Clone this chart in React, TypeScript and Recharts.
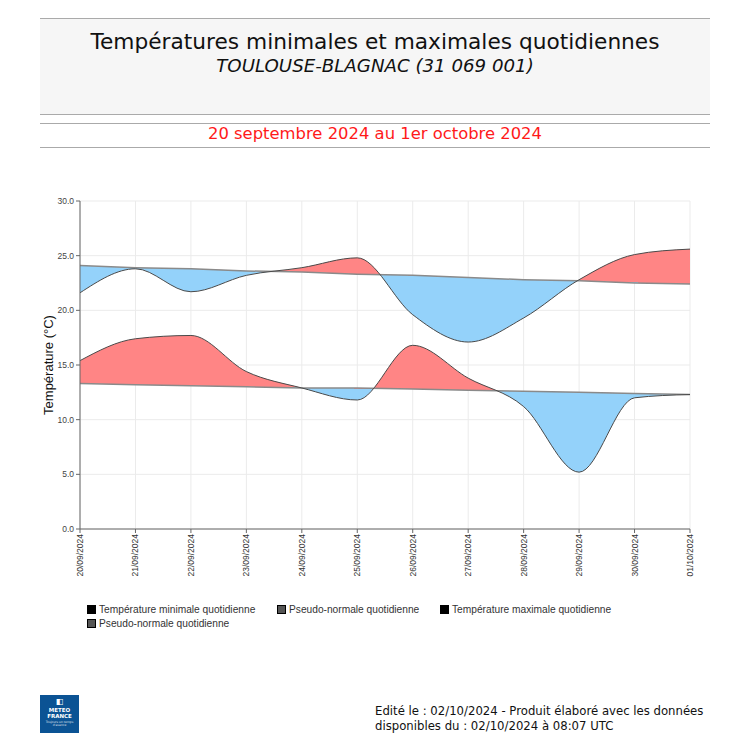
import React from 'react';
import { ComposedChart, Area, Line, XAxis, YAxis, CartesianGrid } from 'recharts';

const dates = ['20/09/2024', '21/09/2024', '22/09/2024', '23/09/2024', '24/09/2024', '25/09/2024', '26/09/2024', '27/09/2024', '28/09/2024', '29/09/2024', '30/09/2024', '01/10/2024'];
const tMax = [21.6, 23.8, 21.7, 23.2, 23.9, 24.8, 19.6, 17.1, 19.3, 22.8, 25.1, 25.6];
const normMax = [24.1, 23.9, 23.8, 23.6, 23.5, 23.3, 23.2, 23.0, 22.8, 22.7, 22.5, 22.4];
const tMin = [15.4, 17.4, 17.7, 14.4, 12.9, 11.8, 16.8, 13.8, 11.2, 5.2, 12.0, 12.3];
const normMin = [13.3, 13.2, 13.1, 13.0, 12.9, 12.9, 12.8, 12.7, 12.6, 12.5, 12.4, 12.3];
const yTicks = [0, 5, 10, 15, 20, 25, 30];

const legendItems = [
  { label: 'Température minimale quotidienne', color: '#000' },
  { label: 'Pseudo-normale quotidienne', color: '#555' },
  { label: 'Température maximale quotidienne', color: '#000' },
  { label: 'Pseudo-normale quotidienne', color: '#555' },
];

const RED = '#ff8585';
const BLUE = '#94d2fa';

const data = dates.map((d, i) => ({
  date: d,
  tmax: tMax[i],
  nmax: normMax[i],
  tmin: tMin[i],
  nmin: normMin[i],
  rmax: [normMax[i], tMax[i]],
  rmin: [normMin[i], tMin[i]],
}));

// layout of the chart
const W = 750;
const H = 600;
const M = { top: 201, right: 60, bottom: 11, left: 40 };
const Y_W = 40;
const X_H = 60;
const plotL = M.left + Y_W;
const plotR = W - M.right;
const plotT = M.top;
const plotB = H - M.bottom - X_H;
const yMax = 30;
const yPix = (v: number) => plotT + ((yMax - v) / yMax) * (plotB - plotT);

function splitGradient(id: string, normals: number[]) {
  const x0 = plotL, y0 = yPix(normals[0]);
  const x1 = plotR, y1 = yPix(normals[normals.length - 1]);
  const mx = (x0 + x1) / 2, my = (y0 + y1) / 2;
  const dx = x1 - x0, dy = y1 - y0;
  const len = Math.hypot(dx, dy);
  const nx = dy / len, ny = -dx / len; // points upward
  const L = 400;
  return (
    <linearGradient id={id} gradientUnits="userSpaceOnUse" x1={mx + nx * L} y1={my + ny * L} x2={mx - nx * L} y2={my - ny * L}>
      <stop offset="0" stopColor={RED} />
      <stop offset="0.5" stopColor={RED} />
      <stop offset="0.5" stopColor={BLUE} />
      <stop offset="1" stopColor={BLUE} />
    </linearGradient>
  );
}

const DateTick = (props: any) => {
  const { x, y, payload } = props;
  return (
    <text
      x={x}
      y={y}
      transform={`rotate(-90, ${x}, ${y})`}
      textAnchor="end"
      dominantBaseline="central"
      fontSize={8.5}
      fill="#333"
      fontFamily="'Liberation Sans', Arial, sans-serif"
    >
      {payload.value}
    </text>
  );
};

export default function App() {
  const hdrFont = "'DejaVu Sans', sans-serif";
  return (
    <div style={{ position: 'absolute', left: 0, top: 0, width: 750, height: 750, background: '#fff', overflow: 'hidden' }}>
      {/* header */}
      <div style={{ position: 'absolute', left: 40, top: 18, width: 670, height: 95, background: '#f6f6f6', borderTop: '1.5px solid #aaa', borderBottom: '1.5px solid #aaa' }} />
      <div style={{ position: 'absolute', left: 40, top: 29, width: 670, textAlign: 'center', fontFamily: hdrFont, fontSize: 21.7, color: '#111', whiteSpace: 'nowrap' }}>
        Températures minimales et maximales quotidiennes
      </div>
      <div style={{ position: 'absolute', left: 40, top: 55, width: 670, textAlign: 'center', fontFamily: hdrFont, fontSize: 18.2, fontStyle: 'italic', color: '#111', whiteSpace: 'nowrap' }}>
        TOULOUSE-BLAGNAC (31 069 001)
      </div>
      <div style={{ position: 'absolute', left: 40, top: 123, width: 670, height: 23, borderTop: '1.5px solid #aaa', borderBottom: '1.5px solid #aaa' }} />
      <div style={{ position: 'absolute', left: 40, top: 124, width: 670, textAlign: 'center', fontFamily: hdrFont, fontSize: 16.4, color: '#ff1a1a', whiteSpace: 'nowrap' }}>
        20 septembre 2024 au 1er octobre 2024
      </div>

      {/* chart */}
      <div style={{ position: 'absolute', left: 0, top: 0 }}>
        <ComposedChart width={W} height={H} data={data} margin={M}>
          <defs>
            {splitGradient('gMax', normMax)}
            {splitGradient('gMin', normMin)}
          </defs>
          <CartesianGrid stroke="#ebebeb" strokeWidth={1} />
          <XAxis
            dataKey="date"
            height={X_H}
            interval={0}
            tick={<DateTick />}
            tickSize={4}
            tickMargin={1}
            axisLine={{ stroke: '#666' }}
            tickLine={{ stroke: '#666' }}
          />
          <XAxis xAxisId="top" orientation="top" dataKey="date" height={0} tick={false} tickLine={false} axisLine={{ stroke: '#777' }} />
          <YAxis
            domain={[0, 30]}
            ticks={yTicks}
            width={Y_W}
            tickFormatter={(v: number) => v.toFixed(1)}
            tick={{ fontSize: 8.5, fill: '#444', fontFamily: "'Liberation Sans', Arial, sans-serif" }}
            tickSize={4}
            tickMargin={2}
            axisLine={{ stroke: '#666' }}
            tickLine={{ stroke: '#666' }}
            label={{
              value: 'Température (°C)',
              angle: -90,
              position: 'insideLeft',
              offset: 8,
              style: { textAnchor: 'middle', fontSize: 13, fill: '#111', fontFamily: "'Liberation Sans', Arial, sans-serif" },
            }}
          />
          <YAxis yAxisId="right" orientation="right" domain={[0, 30]} width={0} tick={false} tickLine={false} axisLine={{ stroke: '#777' }} />
          <Area dataKey="rmax" type="monotone" fill="url(#gMax)" fillOpacity={1} stroke="none" isAnimationActive={false} />
          <Area dataKey="rmin" type="monotone" fill="url(#gMin)" fillOpacity={1} stroke="none" isAnimationActive={false} />
          <Line dataKey="nmax" type="linear" stroke="#8a8a8a" strokeWidth={1.5} dot={false} isAnimationActive={false} />
          <Line dataKey="nmin" type="linear" stroke="#8a8a8a" strokeWidth={1.5} dot={false} isAnimationActive={false} />
          <Line dataKey="tmax" type="monotone" stroke="#4a4a4a" strokeWidth={1} dot={false} isAnimationActive={false} />
          <Line dataKey="tmin" type="monotone" stroke="#4a4a4a" strokeWidth={1} dot={false} isAnimationActive={false} />
        </ComposedChart>
      </div>

      {/* legend */}
      {legendItems.map((it, i) => {
        const pos = [
          { left: 87, top: 604 },
          { left: 277, top: 604 },
          { left: 440, top: 604 },
          { left: 87, top: 618 },
        ][i];
        return (
          <div key={i} style={{ position: 'absolute', left: pos.left, top: pos.top, display: 'flex', alignItems: 'center', fontFamily: "'Liberation Sans', Arial, sans-serif", fontSize: 10.2, color: '#333', whiteSpace: 'nowrap' }}>
            <span style={{ display: 'inline-block', width: 7, height: 7, background: it.color, border: '0.5px solid #000', marginRight: 3 }} />
            {it.label}
          </div>
        );
      })}

      {/* logo */}
      <div style={{ position: 'absolute', left: 40, top: 695, width: 39, height: 38, background: '#0b5394', color: '#fff', fontFamily: "'DejaVu Sans', sans-serif", textAlign: 'center', lineHeight: 1 }}>
        <div style={{ fontSize: 8, marginTop: 3, fontWeight: 'bold' }}>◧</div>
        <div style={{ fontSize: 5.5, fontWeight: 'bold', marginTop: 2 }}>METEO</div>
        <div style={{ fontSize: 5.5, fontWeight: 'bold' }}>FRANCE</div>
        <div style={{ fontSize: 3, marginTop: 2, opacity: 0.8 }}>Toujours un temps d'avance</div>
      </div>

      {/* footer */}
      <div style={{ position: 'absolute', left: 375, top: 704, fontFamily: "'DejaVu Sans', sans-serif", fontSize: 11.7, color: '#111', lineHeight: '15px', whiteSpace: 'nowrap' }}>
        Edité le : 02/10/2024 - Produit élaboré avec les données
        <br />
        disponibles du : 02/10/2024 à 08:07 UTC
      </div>
    </div>
  );
}
